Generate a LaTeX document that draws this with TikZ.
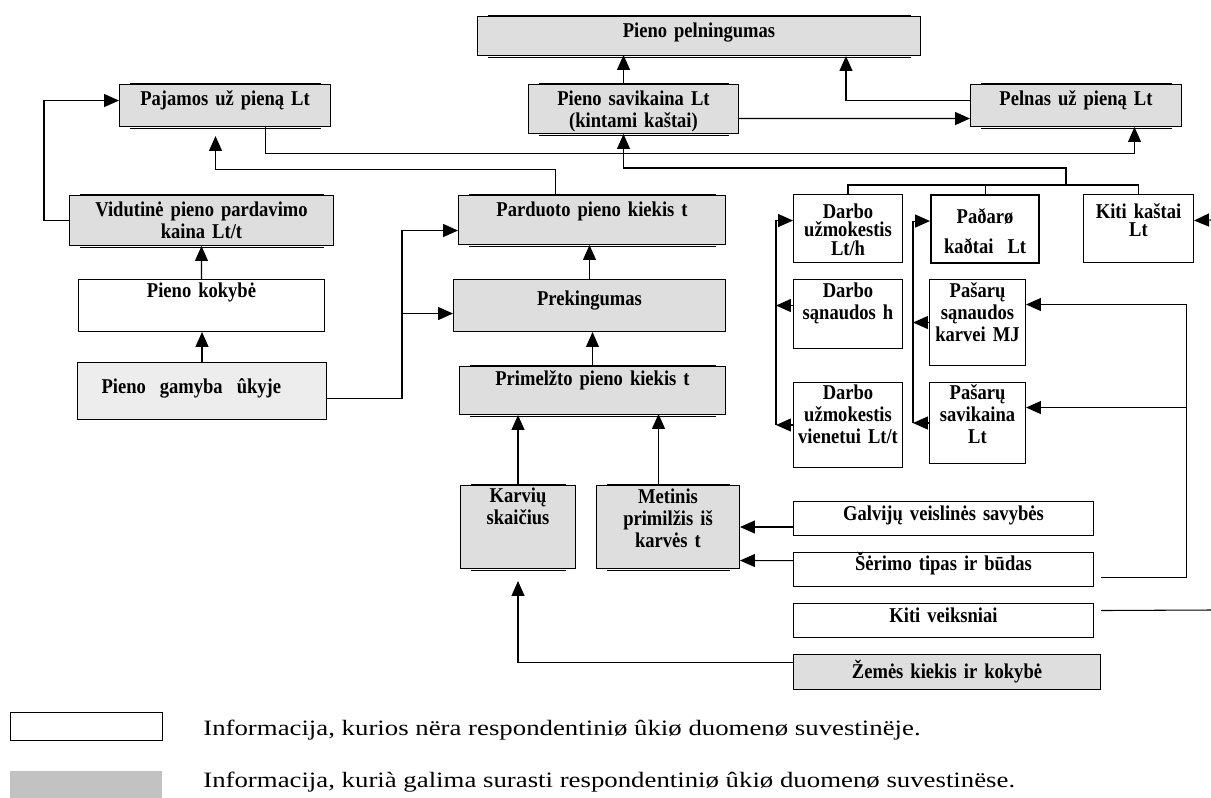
\documentclass[tikz,border=0pt]{standalone}
\usepackage{fontspec}
\setmainfont{Liberation Serif}[FakeStretch=0.88]
\newfontfamily\legendfont{Liberation Serif}[FakeStretch=1.22]
\usetikzlibrary{arrows.meta, calc}

\definecolor{boxgrey}{gray}{0.87}
\definecolor{lightgrey}{gray}{0.93}
\definecolor{legendgrey}{gray}{0.76}

\tikzstyle{block} = [rectangle, draw, fill=boxgrey, line width=0.6pt, anchor=north west, align=center, inner xsep=0pt, inner ysep=0pt, font=\fontsize{12}{12.5}\selectfont\bfseries]
\tikzstyle{blank} = [block, fill=white]
\tikzstyle{tight} = [font=\fontsize{12}{10.5}\selectfont\bfseries]
\tikzset{boxdim/.style n args={3}{text width=#1, text height=#2, text depth=#3}}
\tikzstyle{shadowed} = [append after command={
    ([xshift=0.22cm]\tikzlastnode.north west) edge [line width=1.3pt] ([xshift=-0.2cm]\tikzlastnode.north east)
    ([xshift=0.22cm, yshift=-0.8pt]\tikzlastnode.south west) edge [line width=1pt] ([xshift=-0.2cm, yshift=-0.8pt]\tikzlastnode.south east)}]
\tikzstyle{legendbox} = [rectangle, anchor=north west, inner sep=0pt, minimum width=3.04cm]
\tikzstyle{legendtext} = [anchor=base west, inner sep=0pt, font=\legendfont\fontsize{12.5}{15}\selectfont]
\tikzstyle{arrow} = [line width=0.6pt, -{Triangle[length=8.5pt, width=7.4pt]}]
\tikzstyle{line} = [line width=0.6pt]

\begin{document}
\begin{tikzpicture}[x=0.02cm, y=-0.02cm]
    \useasboundingbox (0,0) rectangle (1211,798);

    % Top level
    \node (pelning) [block, shadowed, boxdim={8.86cm}{0.42cm}{0.36cm}] at (477,16) {Pieno pelningumas};
    \node (pajamos) [block, shadowed, boxdim={4.22cm}{0.42cm}{0.42cm}] at (119,84) {Pajamos už pieną Lt};
    \node (savikaina) [block, shadowed, boxdim={4.2cm}{0.42cm}{0.56cm}] at (528,84) {Pieno savikaina Lt\\(kintami kaštai)};
    \node (pelnas) [block, shadowed, boxdim={4.22cm}{0.42cm}{0.42cm}] at (970,84) {Pelnas už pieną Lt};

    % Milk side
    \node (vidutine) [block, shadowed, boxdim={5.28cm}{0.42cm}{0.58cm}] at (69,195) {Vidutinė pieno pardavimo\\kaina Lt/t};
    \node (kokybe) [blank, boxdim={4.92cm}{0.36cm}{0.68cm}] at (78,279) {Pieno kokybė};
    \node (gamyba) [block, fill=lightgrey, align=left, boxdim={4.98cm}{0.62cm}{0.52cm}] at (77,362) {\hspace*{0.48cm}Pieno\ \ gamyba\ \ ûkyje};
    \node (parduoto) [block, shadowed, boxdim={5.34cm}{0.42cm}{0.56cm}] at (458,195) {Parduoto pieno kiekis t};
    \node (preking) [block, boxdim={5.44cm}{0.52cm}{0.52cm}] at (453,279) {Prekingumas};
    \node (primelzto) [block, shadowed, boxdim={5.32cm}{0.38cm}{0.58cm}] at (459,366) {Primelžto pieno kiekis t};
    \node (karviu) [block, shadowed, boxdim={2.3cm}{0.34cm}{1.32cm}] at (460,485) {Karvių\\skaičius};
    \node (metinis) [block, shadowed, boxdim={2.86cm}{0.36cm}{1.3cm}] at (596,485) {Metinis\\primilžis iš\\karvės t};

    % Cost side
    \node (darbo_uzm) [blank, tight, boxdim={2.18cm}{0.48cm}{0.88cm}] at (793,194) {Darbo\\užmokestis\\Lt/h};
    \node (padaro) [blank, line width=1.2pt, boxdim={2.16cm}{0.56cm}{0.8cm}] at (930,194) {Paðarø\\[5pt]kaðtai\ \ Lt};
    \node (kiti_kastai) [blank, tight, boxdim={2.2cm}{0.48cm}{0.88cm}] at (1083,194) {Kiti kaštai\\Lt};
    \node (darbo_san) [blank, boxdim={2.18cm}{0.36cm}{1.02cm}] at (793,279) {Darbo\\sąnaudos h};
    \node (pasaru_san) [blank, boxdim={1.92cm}{0.36cm}{1.36cm}] at (929,279) {Pašarų\\sąnaudos\\karvei MJ};
    \node (darbo_vnt) [blank, boxdim={2.18cm}{0.34cm}{1.36cm}] at (793,382) {Darbo\\užmokestis\\vienetui Lt/t};
    \node (pasaru_sav) [blank, boxdim={1.92cm}{0.34cm}{1.28cm}] at (929,382) {Pašarų\\savikaina\\Lt};

    % Factors
    \node (galviju) [blank, boxdim={6cm}{0.38cm}{0.3cm}] at (793,501) {Galvijų veislinės savybės};
    \node (serimo) [blank, boxdim={6cm}{0.36cm}{0.32cm}] at (793,552) {Šėrimo tipas ir būdas};
    \node (kiti_veiks) [blank, boxdim={6cm}{0.38cm}{0.3cm}] at (793,603) {Kiti veiksniai};
    \node (zemes) [block, boxdim={6.14cm}{0.48cm}{0.22cm}] at (793,654) {Žemės kiekis ir kokybė};

    % Legend
    \node (leg_white) [legendbox, draw, line width=0.6pt, fill=white, minimum height=0.56cm] at (10,712) {};
    \node (leg_grey) [legendbox, fill=legendgrey, minimum height=0.54cm] at (10,771) {};
    \node (leg_white_text) [legendtext] at (203,735) {Informacija, kurios nëra respondentiniø ûkiø duomenø suvestinëje.};
    \node (leg_grey_text) [legendtext] at (203,787) {Informacija, kurià galima surasti respondentiniø ûkiø duomenø suvestinëse.};

    \coordinate (costjoin) at (1066,185);
    \coordinate (edge_low) at (1211,610);
    \coordinate (edge_high) at (1211,220);

    % ==== Arrows
    % Profitability
    \draw [arrow] ($(savikaina.north)+(-10,0)$) -- ($(savikaina.north)+(-10,-29)$);
    \draw [arrow] ($(pelnas.west)+(0,-5)$) -| ($(pelning.south east)+(-75,0)$);
    \draw [arrow] ($(savikaina.east)+(0,9.5)$) -- ($(pelnas.west)+(0,13)$);
    \draw [arrow] ($(pajamos.south)+(40.5,0)$) |- ($(pelnas.south)+(58.5,26)$) -- ($(pelnas.south)+(58.5,0)$);

    % Costs
    \draw [line] (darbo_uzm.north) |- (costjoin) -| (kiti_kastai.north);
    \draw [line] (padaro.north) -- (padaro.north |- costjoin);
    \draw [arrow] (costjoin) -- ++(0,-17) -| ($(savikaina.south)+(-10,0)$);

    % Revenue
    \draw [arrow, shorten >=0.18cm] ($(parduoto.north)+(-36.5,0)$) |- ($(pajamos.south)+(-9.5,42)$) -- ($(pajamos.south)+(-9.5,0)$);
    \draw [arrow] (vidutine.west) -- ++(-25,0) |- ($(pajamos.west)+(0,-5)$);
    \draw [arrow] (kokybe.north) -- (vidutine.south);
    \draw [arrow] (gamyba.north) -- (gamyba.north |- kokybe.south);
    \draw [arrow] ($(gamyba.east)+(0,7.5)$) -| ($(parduoto.west)+(-56,10.5)$) -- ($(parduoto.west)+(0,10.5)$);
    \draw [arrow] ($(preking.west)+(-51,8)$) -- ($(preking.west)+(0,8)$);

    % Milk quantity
    \draw [arrow] (preking.north) -- (preking.north |- parduoto.south);
    \draw [arrow] (primelzto.north) -- (primelzto.north |- preking.south);
    \draw [arrow] (karviu.north) -- (karviu.north |- primelzto.south);
    \draw [arrow] ($(metinis.north)+(-9.5,0)$) -- ($(metinis.north)+(-9.5,-71)$);
    \draw [arrow] (metinis.east -| galviju.west) -- (metinis.east);
    \draw [arrow] ($(serimo.west)+(0,-9)$) -- ($(metinis.east)+(0,33.5)$);
    \draw [arrow, shorten >=0.24cm] ($(zemes.west)+(0,-9.5)$) -| (karviu.south);

    % Feeding and other factors
    \draw [arrow] ($(serimo.east)+(7,8)$) -| ($(pasaru_san.east)+(160,-18)$) -- ($(pasaru_san.east)+(0,-18)$);
    \draw [arrow] ($(pasaru_sav.east)+(160,-15.5)$) -- ($(pasaru_sav.east)+(0,-15.5)$);
    \draw [line] ($(kiti_veiks.east)+(7,-10)$) -- (edge_low);
    \draw [arrow] (edge_high) -- ($(kiti_kastai.east)+(0,-8)$);

    % Labour and stall costs
    \draw [arrow] ($(darbo_san.west)+(0,-8.5)$) -- ++(-17,0);
    \draw [arrow] (darbo_vnt.west) -- ++(-17,0);
    \draw [arrow] ($(darbo_vnt.west)+(-17,0)$) |- ($(darbo_uzm.west)+(0,-8)$);
    \draw [arrow] (pasaru_san.west) -- ++(-16,0);
    \draw [arrow] (pasaru_sav.west) -- ++(-16,0);
    \draw [arrow] ($(pasaru_sav.west)+(-16,0)$) |- ($(padaro.west)+(0,-8)$);

\end{tikzpicture}
\end{document}
